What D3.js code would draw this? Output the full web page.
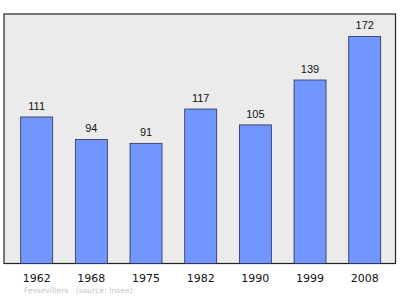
<!DOCTYPE html>
<html lang="fr">
<head>
<meta charset="UTF-8"/>
<title>Fessevillers population</title>
<script src="https://d3js.org/d3.v7.min.js"></script>
<style>
  body { margin: 0; background: #fff; }
  svg { display: block; }
</style>
</head>
<body>
<script>
var w = 400;
var h = 299;

// data
var years = ["1962", "1968", "1975", "1982", "1990", "1999", "2008"];
var population = [111, 94, 91, 117, 105, 139, 172];
var sourceText = "Fessevillers   (source: Insee)";

// frame of the plot
var frame = {left: 4, top: 14, right: 395.5, bottom: 263.5};

var xScale = d3.scaleBand()
               .domain(years)
               .range([20.7, 380.7])
               .paddingInner(0.415)
               .paddingOuter(0);

var yScale = d3.scaleLinear()
               .domain([0, 189])
               .range([frame.bottom, frame.top]);

var svg = d3.select("body")
            .append("svg")
            .attr("width", w)
            .attr("height", h);

// background box
svg.append("rect")
   .attr("x", frame.left)
   .attr("y", frame.top)
   .attr("width", frame.right - frame.left)
   .attr("height", frame.bottom - frame.top)
   .attr("fill", "#ebebeb")
   .attr("stroke", "#222")
   .attr("stroke-width", 1.2);

// bars
svg.selectAll("rect.bar")
   .data(population)
   .enter()
   .append("rect")
   .attr("class", "bar")
   .attr("x", function(d, i) { return xScale(years[i]); })
   .attr("y", function(d) { return yScale(d); })
   .attr("width", xScale.bandwidth())
   .attr("height", function(d) { return frame.bottom - yScale(d); })
   .attr("fill", "#7196ff")
   .attr("stroke", "#2a3050")
   .attr("stroke-width", 0.8);

// value labels
svg.selectAll("text.val")
   .data(population)
   .enter()
   .append("text")
   .attr("class", "val")
   .attr("x", function(d, i) { return xScale(years[i]) + xScale.bandwidth() / 2; })
   .attr("y", function(d) { return yScale(d) - 7; })
   .attr("text-anchor", "middle")
   .attr("font-family", "Liberation Sans, Arial, sans-serif")
   .attr("font-size", 11)
   .attr("fill", "#111")
   .text(function(d) { return d; });

// x axis (labels only, no ticks)
var xAxis = d3.axisBottom(xScale).tickSize(0).tickPadding(0);
var gx = svg.append("g")
            .attr("transform", "translate(0," + frame.bottom + ")")
            .call(xAxis);
gx.select(".domain").remove();
gx.selectAll("text")
  .attr("dy", null)
  .attr("y", 18.2)
  .attr("font-family", "DejaVu Sans, sans-serif")
  .attr("font-size", 11)
  .attr("fill", "#111");

// source note
svg.append("text")
   .attr("x", 24)
   .attr("y", 292.5)
   .attr("font-family", "DejaVu Sans, sans-serif")
   .attr("font-size", 7.7)
   .attr("fill", "#c4c4c4")
   .attr("xml:space", "preserve")
   .style("white-space", "pre")
   .text(sourceText);
</script>
</body>
</html>
